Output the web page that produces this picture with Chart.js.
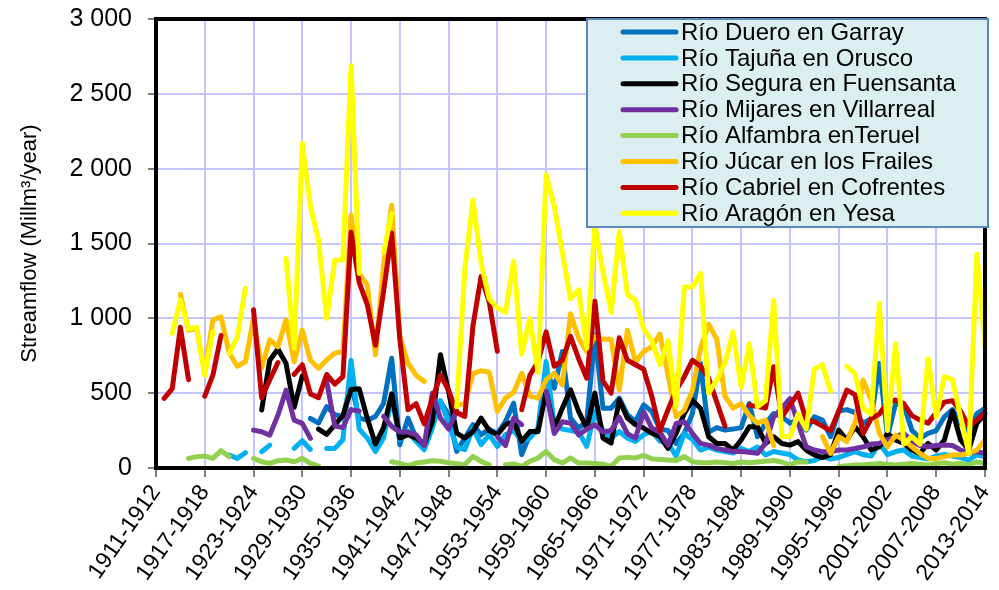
<!DOCTYPE html>
<html>
<head>
<meta charset="utf-8">
<script src="https://cdn.jsdelivr.net/npm/chart.js@4.4.0/dist/chart.umd.min.js"></script>
<style>
    html, body { margin: 0; padding: 0; background: #fff; }
</style>
</head>
<body>
<canvas id="flowChart" width="999" height="590"></canvas>
<script>
// ==========================================
// CAUDALES ANUALES - 8 RÍOS
// ==========================================

// categorías: años hidrológicos 1911-1912 ... 2013-2014
const seasons = [];
for (let y = 1911; y <= 2013; y++) seasons.push(y + '-' + (y + 1));

const yTickValues = [0, 500, 1000, 1500, 2000, 2500, 3000];

const seriesNames = [
    'Río Duero en Garray',
    'Río Tajuña en Orusco',
    'Río Segura en Fuensanta',
    'Río Mijares en Villarreal',
    'Río Alfambra enTeruel',
    'Río Júcar en los Frailes',
    'Río Cabriel en Cofrentes',
    'Río Aragón en Yesa'
];

const seriesColors = ['#0070C0', '#00B0F0', '#000000', '#7030A0', '#92D050', '#FFC000', '#C00000', '#FFFF00'];

// valores en hm3/año, 10 por fila
const duero = [
    null, null, null, null, null, null, null, null, null, null,
    null, null, null, null, null, null, null, null, null, 331,
    300, 410, 356, 344, 560, 333, 320, 344, 431, 733,
    156, 333, 200, 133, 378, 444, 356, 111, 200, 289,
    222, 260, 230, 311, 433, 89, 222, 244, 644, 533,
    778, 333, 267, 311, 889, 400, 400, 467, 356, 311,
    422, 378, 260, 250, 164, 231, 364, 698, 240, 270,
    253, 260, 270, 431, 209, 298, 364, 342, 300, 320,
    253, 342, 320, 209, 380, 390, 370, 300, 330, 698,
    209, 431, 420, 253, 198, 231, 250, 342, 390, 300,
    231, 364, 398
];

const tajuna = [
    null, null, null, null, null, null, null, null, null, 87,
    64, 102, null, 109, 153, null, null, 131, 182, 124,
    null, 131, 131, 189, 720, 260, 200, 110, 200, 467,
    189, 244, 178, 122, 267, 450, 300, 140, 122, 267,
    156, 222, 144, 222, 250, 178, 200, 267, 711, 289,
    260, 250, 240, 144, 378, 250, 200, 244, 200, 178,
    222, 244, 180, 164, 80, 231, 190, 120, 140, 120,
    110, 100, 130, 110, 140, 87, 110, 100, 90, 53,
    42, 50, 76, 60, 70, 90, 109, 90, 80, 164,
    90, 110, 120, 80, 70, 60, 80, 90, 80, 70,
    53, 87, 76
];

const segura = [
    null, null, null, null, null, null, null, null, null, null,
    null, null, null, 387, 720, 795, 698, 405, 615, null,
    260, 225, 288, 350, 525, 530, 330, 160, 270, 495,
    200, 222, 200, 156, 311, 756, 511, 233, 200, 244,
    333, 250, 222, 289, 311, 178, 244, 244, 511, 267,
    400, 522, 378, 267, 500, 200, 167, 456, 333, 289,
    267, 233, 210, 131, 231, 364, 453, 398, 209, 164,
    164, 120, 187, 276, 276, 164, 209, 164, 153, 176,
    120, 87, 70, 90, 253, 187, 276, 209, 120, 142,
    231, 187, 164, 120, 98, 164, 120, 187, 380, 187,
    120, 300, 360
];

const mijares = [
    null, null, null, null, null, null, null, null, null, null,
    null, null, 253, 242, 220, 353, 520, 320, 298, 198,
    null, 580, 280, 270, 390, 380, null, null, 344, 278,
    240, 240, 222, 150, 500, 333, 260, 380, null, null,
    null, null, 210, 150, 333, 290, null, null, 511, 230,
    309, 300, 222, 260, 289, 240, 250, 340, 230, 200,
    376, 267, 240, 153, 298, 309, 231, 164, 153, 131,
    120, 110, 110, 105, 98, 164, 342, 400, 464, 300,
    142, 120, 109, 110, 120, 120, 131, 140, 160, 164,
    190, 209, 231, 180, 150, 142, 150, 153, 150, 120,
    100, 110, 98
];

const alfambra = [
    null, null, null, null, 64, 76, 80, 64, 116, 76,
    null, null, 64, 42, 31, 49, 53, 42, 64, 31,
    13, null, null, null, null, null, null, null, null, 42,
    31, 16, 33, 40, 49, 45, 35, 29, 22, 78,
    44, 22, null, 22, 27, 11, 44, 67, 111, 56,
    33, 67, 33, 33, 30, 25, 11, 67, 71, 67,
    84, 62, 56, 53, 50, 76, 42, 35, 35, 40,
    35, 30, 40, 35, 40, 45, 50, 40, 20, 42,
    40, null, null, null, 10, 15, 20, 20, 25, 30,
    25, 20, 25, 30, 25, 20, 30, 35, 25, 30,
    20, 40, 30
];

const jucar = [
    null, null, null, 1160, 920, 930, 640, 990, 1010, 770,
    680, 710, 1000, 670, 856, 810, 990, 710, 920, 720,
    667, 722, 767, 778, 1690, 1300, 1222, 756, 1356, 1756,
    880, 700, 620, 578, null, null, null, 420, 430, 630,
    650, 640, 378, 467, 505, 633, 480, 467, 589, 633,
    556, 1030, 867, 778, 878, 860, 860, 520, 920, 711,
    778, 811, 895, 620, 342, 387, 520, 800, 960, 860,
    480, 400, 430, 350, 300, 320, 150, null, null, null,
    null, null, 209, 98, 209, 176, 300, 587, 453, 231,
    142, 220, 187, 142, 98, 64, 64, 76, 87, 87,
    98, 120, 187
];

const cabriel = [
    null, 465, 530, 940, 590, null, 480, 620, 885, null,
    null, null, 1058, 470, 590, 705, null, 625, 690, 495,
    470, 625, 560, 610, 1575, 1240, 1090, 820, 1180, 1570,
    860, 390, 430, 295, 460, 620, 520, 370, 345, 950,
    1280, 1110, 780, null, null, 390, 620, 710, 910, 680,
    720, 880, 730, 600, 1115, 580, 500, 870, 720, 690,
    660, 480, 250, 390, 520, 610, 720, 680, 600, 440,
    280, null, null, 420, 410, 400, 676, 340, 420, 500,
    320, 310, 280, 250, 380, 520, 490, 230, 330, 360,
    440, 455, 430, 350, 320, 300, 370, 440, 450, 380,
    280, 320, 370
];

const aragon = [
    null, null, 900, 1120, 930, 940, 620, 910, null, 765,
    875, 1200, null, null, null, null, 1400, 800, 2170, 1750,
    1520, 1000, 1390, 1390, 2690, 1300, null, null, 1440, 1700,
    null, null, null, null, null, null, null, 410, 1330, 1790,
    1370, 1130, 1070, 1040, 1380, 760, 1000, 640, 1960, 1750,
    1440, 1130, 1190, 800, 1620, 1310, 1040, 1580, 1160, 1120,
    930, 850, 690, 850, 410, 1210, 1210, 1300, 500, 590,
    700, 910, 540, 830, 410, 450, 1120, 210, 210, 360,
    260, 660, 690, 515, null, 680, 630, 400, 360, 1100,
    250, 830, 160, 210, 160, 730, 340, 610, 590, 340,
    100, 1430, 810
];

const seriesData = [duero, tajuna, segura, mijares, alfambra, jucar, cabriel, aragon];

const FONT = "'Liberation Sans', Arial, sans-serif";
const GRID = '#C4C4FF';

function formatThousands(v) {
    return String(v).replace(/\B(?=(\d{3})+(?!\d))/g, ' ');
}

// marco negro del área de trazado
const framePlugin = {
    id: 'frame',
    afterDatasetsDraw(chart) {
        const a = chart.chartArea;
        const ctx = chart.ctx;
        ctx.save();
        ctx.strokeStyle = '#000';
        ctx.lineWidth = 4;
        ctx.strokeRect(a.left, a.top, a.right - a.left, a.bottom - a.top);
        ctx.restore();
    }
};

// leyenda dentro del gráfico, arriba a la derecha
const boxLegendPlugin = {
    id: 'boxLegend',
    afterDraw(chart) {
        const ctx = chart.ctx;
        const x0 = 587, y0 = 19, w = 401, h = 208;
        ctx.save();
        ctx.fillStyle = '#DBEEF0';
        ctx.fillRect(x0, y0, w, h);
        ctx.strokeStyle = '#5A87BE';
        ctx.lineWidth = 2;
        ctx.strokeRect(x0, y0, w, h);
        ctx.font = '24px ' + FONT;
        ctx.textBaseline = 'middle';
        ctx.lineCap = 'round';
        seriesNames.forEach((name, i) => {
            const cy = 32 + i * 25.9;
            ctx.strokeStyle = seriesColors[i];
            ctx.lineWidth = 5;
            ctx.beginPath();
            ctx.moveTo(623, cy);
            ctx.lineTo(676, cy);
            ctx.stroke();
            ctx.fillStyle = '#000';
            ctx.fillText(name, 681, cy + 1);
        });
        ctx.restore();
    }
};

const datasets = seriesNames.map((name, i) => ({
    label: name,
    data: seriesData[i],
    borderColor: seriesColors[i],
    backgroundColor: seriesColors[i],
    borderWidth: 5,
    pointRadius: 0,
    tension: 0,
    spanGaps: false,
    borderJoinStyle: 'round',
    borderCapStyle: 'round',
    order: seriesNames.length - i
}));

new Chart(document.getElementById('flowChart').getContext('2d'), {
    type: 'line',
    data: { labels: seasons, datasets },
    options: {
        responsive: false,
        animation: false,
        layout: { padding: { top: 19, right: 14, bottom: 0, left: 0 } },
        plugins: {
            legend: { display: false },
            tooltip: { enabled: false }
        },
        scales: {
            x: {
                type: 'category',
                offset: false,
                afterFit(scale) {
                    scale.height = 122;
                    scale.paddingLeft = 0;
                    scale.paddingRight = 0;
                },
                grid: {
                    offset: false,
                    lineWidth: 2,
                    color: c => (c.index % 6 === 0 ? GRID : 'rgba(0,0,0,0)'),
                    tickColor: c => (c.index % 6 === 0 ? '#808080' : 'rgba(0,0,0,0)'),
                    tickLength: 9
                },
                border: { display: false },
                ticks: {
                    autoSkip: false,
                    maxRotation: 55,
                    minRotation: 55,
                    padding: 3,
                    color: '#000',
                    font: { family: FONT, size: 23 },
                    callback: (v, i) => (i % 6 === 0 ? seasons[i] : '')
                }
            },
            y: {
                min: 0,
                max: 3000,
                afterFit(scale) {
                    scale.width = 156;
                    scale.paddingTop = 0;
                    scale.paddingBottom = 0;
                },
                afterBuildTicks(scale) { scale.ticks = yTickValues.map(v => ({ value: v })); },
                grid: {
                    lineWidth: 2,
                    color: GRID,
                    tickColor: '#808080',
                    tickLength: 8
                },
                border: { display: false },
                ticks: {
                    padding: 16,
                    color: '#000',
                    font: { family: FONT, size: 25 },
                    callback: v => formatThousands(v)
                },
                title: {
                    display: true,
                    text: 'Streamflow (Millm³/year)',
                    color: '#000',
                    font: { family: FONT, size: 22 },
                    padding: { top: 17, bottom: 0 }
                }
            }
        }
    },
    plugins: [framePlugin, boxLegendPlugin]
});
</script>
</body>
</html>
